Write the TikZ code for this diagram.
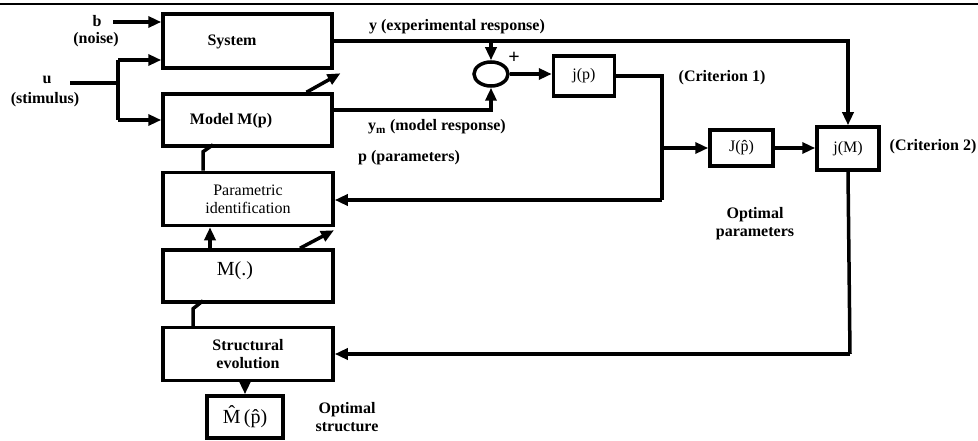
\documentclass[tikz,border=0pt]{standalone}
\usepackage{fontspec}
\setmainfont{Liberation Serif}
\usetikzlibrary{arrows.meta,shapes.geometric}
\begin{document}
\begin{tikzpicture}[x=1pt,y=-1pt,
  box/.style={draw, line width=3.5pt, inner sep=0pt},
  lbl/.style={font=\fontsize{16}{18}\selectfont\bfseries, inner sep=0pt, align=center},
  rlbl/.style={font=\fontsize{16}{18}\selectfont, inner sep=0pt, align=center},
  big/.style={font=\fontsize{20}{22}\selectfont, inner sep=0pt},
  wire/.style={line width=3.5pt},
  arr/.style={wire, -{Triangle[length=13pt,width=11pt]}},
]
\useasboundingbox (0,0) rectangle (978,441);
\draw[line width=2.5pt] (0,4) -- (978,4);

% boxes
\node[box, minimum width=169pt, minimum height=54pt] (sys) at (247.5,41) {};
\node[lbl] (systxt) at (232,42) {System};
\node[box, minimum width=169pt, minimum height=52pt] (model) at (247.5,120) {};
\node[lbl] (modeltxt) at (231,121) {Model M(p)};
\node[box, minimum width=170pt, minimum height=53pt, rlbl] (param) at (248,199) {Parametric\\identification};
\node[box, minimum width=170pt, minimum height=52pt] (mdot) at (248,276) {};
\node[big] (mdottxt) at (235,271) {M(.)};
\node[box, minimum width=170pt, minimum height=53pt, lbl] (struct) at (248,354) {Structural\\evolution};
\node[box, minimum width=76pt, minimum height=42pt, big] (mhat) at (245,417) {\^M\,(\^p)};
\node[draw, ellipse, line width=3.5pt, minimum width=34pt, minimum height=24pt, inner sep=0pt] (sum) at (491,74) {};
\node[box, minimum width=61pt, minimum height=40pt, rlbl] (jp) at (584,76) {j(p)};
\node[box, minimum width=63pt, minimum height=36pt, rlbl] (Jp) at (741.5,148) {J(\^p)};
\node[box, minimum width=62pt, minimum height=43pt, rlbl] (jM) at (848,148.5) {j(M)};

% labels
\node[lbl] (blbl) at (97,21) {b};
\node[lbl] (noise) at (96,40) {(noise)};
\node[lbl] (ulbl) at (47,80) {u};
\node[lbl] (stim) at (45,100) {(stimulus)};
\node[lbl] (ylbl) at (457,27) {y (experimental response)};
\node[big, font=\fontsize{20}{22}\selectfont\bfseries] (plus) at (514,58) {+};
\node[lbl] (ymlbl) at (437,127) {y\textsubscript{m} (model response)};
\node[lbl] (plbl) at (409,158) {p (parameters)};
\node[lbl] (crit1) at (722,78) {(Criterion 1)};
\node[lbl] (crit2) at (933,147) {(Criterion 2)};
\node[lbl] (optpar) at (755,224) {Optimal\\parameters};
\node[lbl] (optstr) at (347,417) {Optimal\\structure};

% coordinates
\coordinate (b0) at (113,22);
\coordinate (u0) at (70,83);
\coordinate (u1) at (118,83);
\coordinate (u2) at (118,60);
\coordinate (u3) at (118,120);
\coordinate (ym0) at (332,110);
\coordinate (c1) at (662,200);
\coordinate (c2) at (662,148);
\coordinate (c3) at (850,354);

% connectors
\draw[arr] (b0) -- (sys.west |- b0);
\draw[wire] (u0) -- (u1);
\draw[wire] (u2) -- (u3);
\draw[arr] (u2) -- (sys.west |- u2);
\draw[arr] (u3) -- (model.west |- u3);
\draw[arr] (sys.east) -| (jM.north);
\draw[arr] (sum.north |- sys.east) -- (sum.north);
\draw[arr] (ym0) -| (sum.south);
\draw[arr] (sum.east) -- (jp.west |- sum.east);
\draw[wire] (jp.east) -| (c1);
\draw[arr] (c1) -- (param.east |- c1);
\draw[arr] (c2) -- (Jp.west);
\draw[arr] (Jp.east) -- (jM.west |- Jp.east);
\draw[wire] (jM.south) -- (c3);
\draw[arr] (c3) -- (struct.east);
\draw[arr] (mhat.north |- struct.south) -- (mhat.north);
\draw[arr] ([xshift=-38pt]mdot.north) -- ([xshift=-38pt]param.south);
\draw[arr] ([xshift=52pt]mdot.north) -- ++(34,-18);
\draw[arr] ([xshift=59pt]model.north) -- ++(34,-19);
\draw[wire] ([xshift=-45pt]param.north) -- ++(0,-19) -- ++(10,-7);
\draw[wire] ([xshift=-55pt]struct.north) -- ++(0,-17) -- ++(10,-8);
\end{tikzpicture}
\end{document}
